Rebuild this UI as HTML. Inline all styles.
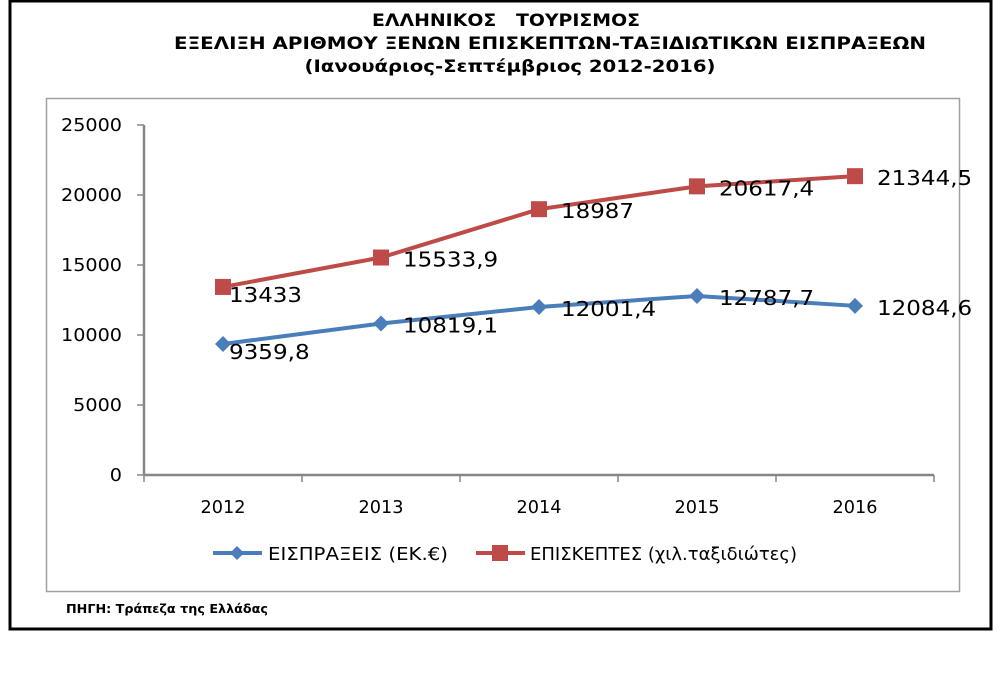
<!DOCTYPE html>
<html><head><meta charset="utf-8"><style>
html,body{margin:0;padding:0;background:#fff;}
svg{display:block;font-family:"DejaVu Sans","Liberation Sans",sans-serif;}
</style></head><body>
<svg id="chart" width="1003" height="673" viewBox="0 0 1003 673">
<rect x="10" y="1" width="981" height="628" fill="#fff" stroke="#000" stroke-width="3"/>
<g font-weight="bold" font-size="17" text-anchor="middle" lengthAdjust="spacingAndGlyphs">
<text x="506" y="26" textLength="268" lengthAdjust="spacingAndGlyphs">ΕΛΛΗΝΙΚΟΣ &#160; ΤΟΥΡΙΣΜΟΣ</text>
<text x="550" y="49" textLength="752" lengthAdjust="spacingAndGlyphs">ΕΞΕΛΙΞΗ ΑΡΙΘΜΟΥ ΞΕΝΩΝ ΕΠΙΣΚΕΠΤΩΝ-ΤΑΞΙΔΙΩΤΙΚΩΝ ΕΙΣΠΡΑΞΕΩΝ</text>
<text x="510" y="72" textLength="411" lengthAdjust="spacingAndGlyphs">(Ιανουάριος-Σεπτέμβριος 2012-2016)</text>
</g>
<rect x="46.5" y="98.5" width="913" height="493" fill="#fff" stroke="#a0a0a0" stroke-width="1.5"/>
<g id="axes"></g>
<g id="series"></g>
<g>
<line x1="213" y1="553" x2="262" y2="553" stroke="#4a7ebb" stroke-width="4"/>
<path d="M237 546 L244 553 L237 560 L230 553 Z" fill="#4a7ebb"/>
<text x="268" y="560" font-size="18" textLength="180" lengthAdjust="spacingAndGlyphs">ΕΙΣΠΡΑΞΕΙΣ (ΕΚ.€)</text>
<line x1="476" y1="553" x2="525" y2="553" stroke="#be4b48" stroke-width="4"/>
<rect x="492" y="545" width="16" height="16" fill="#be4b48"/>
<text x="530" y="560" font-size="18" textLength="267" lengthAdjust="spacingAndGlyphs">ΕΠΙΣΚΕΠΤΕΣ (χιλ.ταξιδιώτες)</text>
</g>
<text x="66" y="613" font-size="12" font-weight="bold" textLength="202" lengthAdjust="spacingAndGlyphs">ΠΗΓΗ: Τράπεζα της Ελλάδας</text>
</svg>
<script>
const categories = ["2012","2013","2014","2015","2016"];
const receipts = [9359.8, 10819.1, 12001.4, 12787.7, 12084.6];
const visitors = [13433, 15533.9, 18987, 20617.4, 21344.5];
const receiptLabels = ["9359,8","10819,1","12001,4","12787,7","12084,6"];
const visitorLabels = ["13433","15533,9","18987","20617,4","21344,5"];
const yTicks = [0,5000,10000,15000,20000,25000];

const NS = "http://www.w3.org/2000/svg";
const X0 = 144, X1 = 934, Y0 = 475, Y1 = 125, YMAX = 25000;
const band = (X1 - X0) / categories.length;
const xs = i => X0 + band * (i + 0.5);
const ys = v => Y0 - (v / YMAX) * (Y0 - Y1);
function mk(tag, attrs, parent) {
  const el = document.createElementNS(NS, tag);
  for (const k in attrs) el.setAttribute(k, attrs[k]);
  parent.appendChild(el);
  return el;
}
const axes = document.getElementById("axes");
const series = document.getElementById("series");

const yAxis = mk("line", {x1:X0, y1:Y1, x2:X0, y2:Y0, stroke:"#868686", "stroke-width":2.5}, axes);


const xAxis = mk("line", {x1:X0, y1:Y0, x2:X1, y2:Y0, stroke:"#868686", "stroke-width":2.5}, axes);



yTicks.forEach(t => {
  const y = ys(t);
  const tk = mk("line", {x1:X0-7, y1:y, x2:X0, y2:y, stroke:"#868686", "stroke-width":1.5}, axes);
  
  
  const s = String(t);
  const lb = mk("text", {x:122, y:y+6, "font-size":18, "text-anchor":"end", textLength: s.length*12.2, lengthAdjust:"spacingAndGlyphs"}, axes);
  lb.textContent = s;
  
  
});
for (let i = 0; i <= categories.length; i++) {
  const x = X0 + band * i;
  const tk = mk("line", {x1:x, y1:Y0, x2:x, y2:Y0+7, stroke:"#868686", "stroke-width":1.5}, axes);
  
  
}
categories.forEach((c, i) => {
  const lb = mk("text", {x:xs(i), y:513, "font-size":18, "text-anchor":"middle", textLength:45, lengthAdjust:"spacingAndGlyphs"}, axes);
  lb.textContent = c;
  
  
});

function drawSeries(vals, labels, color, kind, name) {
  const pts = vals.map((v, i) => xs(i) + "," + ys(v)).join(" ");
  const pl = mk("polyline", {points:pts, fill:"none", stroke:color, "stroke-width":4, "stroke-linejoin":"round"}, series);
  
  
  vals.forEach((v, i) => {
    const x = xs(i), y = ys(v);
    let m;
    if (kind === "diamond") {
      m = mk("path", {d:`M${x} ${y-8} L${x+8} ${y} L${x} ${y+8} L${x-8} ${y} Z`, fill:color}, series);
    } else {
      m = mk("rect", {x:x-8, y:y-8, width:16, height:16, fill:color}, series);
    }
    
    
    const dx = i === 0 ? 6 : 22, dy = i === 0 ? 15 : 9;
    const t = mk("text", {x:x+dx, y:y+dy, "font-size":20, textLength: labels[i].length*14.6 - (labels[i].includes(",")?7:0), lengthAdjust:"spacingAndGlyphs"}, series);
    t.textContent = labels[i];
    
    
  });
}
drawSeries(receipts, receiptLabels, "#4a7ebb", "diamond", "receipts");
drawSeries(visitors, visitorLabels, "#be4b48", "square", "visitors");
</script>
</body></html>
